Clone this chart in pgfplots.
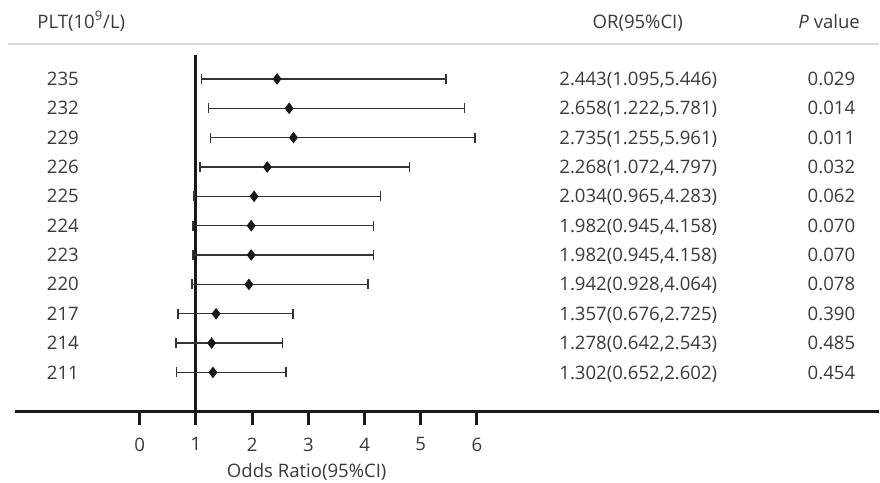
\documentclass[border=0pt]{standalone}
\usepackage{fontspec}
\setmainfont{Open Sans}
\usepackage{pgfplots}
\pgfplotsset{compat=1.18}
\usepackage{pgfplotstable}
\definecolor{txt}{HTML}{3A3A3A}
\definecolor{hline}{HTML}{D9D9D9}
\pgfplotstableread{
row plt or lo hi
11 235 2.443 1.095 5.446
10 232 2.658 1.222 5.781
9 229 2.735 1.255 5.961
8 226 2.268 1.072 4.797
7 225 2.034 0.965 4.283
6 224 1.982 0.945 4.158
5 223 1.982 0.945 4.158
4 220 1.942 0.928 4.064
3 217 1.357 0.676 2.725
2 214 1.278 0.642 2.543
1 211 1.302 0.652 2.602
}\datatable
\begin{document}
\begin{tikzpicture}[font=\fontsize{9.3}{11}\selectfont, rt/.style={anchor=base, yshift=-3.3pt, inner sep=0pt, text=txt}]
\begin{axis}[
  x=28.15pt, y=14.7pt,
  xmin=-2.22, xmax=13.144,
  ymin=-0.327, ymax=12.5,
  axis x line=bottom,
  axis y line=none,
  x axis line style={-, line width=1.5pt, black!90},
  xtick={0,1,2,3,4,5,6},
  tick align=outside,
  major tick length=7pt,
  x tick style={line width=1.5pt, black!90},
  /pgf/number format/assume math mode=true,
  xticklabel style={text=txt, inner sep=0pt, yshift=-6pt, font=\fontsize{9.3}{11}\selectfont},
  clip=false,
]
\path (axis cs:-2.487,-2.741) rectangle (axis cs:13.144,13.69);
% header
\draw[hline, line width=1.1pt] (axis cs:-2.34,12.19) -- (axis cs:13.144,12.19);
\node[anchor=base west, inner sep=0pt, text=txt] at (axis cs:-1.83,12.73) {PLT(10\textsuperscript{9}/L)};
\node[anchor=base, inner sep=0pt, text=txt] at (axis cs:8.86,12.73) {OR(95\%CI)};
\node[anchor=base east, inner sep=0pt, text=txt] at (axis cs:12.82,12.73) {\textit{P} value};
% reference line
\draw[line width=1.5pt, black!90] (axis cs:1,11.82) -- (axis cs:1,-0.327);
% data
\addplot[only marks, mark=diamond*, mark size=2.6pt, black!90,
  error bars/.cd, x dir=both, x explicit,
  error bar style={line width=0.75pt, black!80},
  error mark options={line width=0.75pt, black!80, mark size=2.5pt, rotate=90}]
  table[x=or, y=row, x error plus expr=\thisrow{hi}-\thisrow{or}, x error minus expr=\thisrow{or}-\thisrow{lo}] {\datatable};
% row labels
\node[rt] at (axis cs:-1.368,11) {235};
\node[rt] at (axis cs:-1.368,10) {232};
\node[rt] at (axis cs:-1.368,9) {229};
\node[rt] at (axis cs:-1.368,8) {226};
\node[rt] at (axis cs:-1.368,7) {225};
\node[rt] at (axis cs:-1.368,6) {224};
\node[rt] at (axis cs:-1.368,5) {223};
\node[rt] at (axis cs:-1.368,4) {220};
\node[rt] at (axis cs:-1.368,3) {217};
\node[rt] at (axis cs:-1.368,2) {214};
\node[rt] at (axis cs:-1.368,1) {211};
% OR text
\node[rt] at (axis cs:8.87,11) {2.443(1.095,5.446)};
\node[rt] at (axis cs:8.87,10) {2.658(1.222,5.781)};
\node[rt] at (axis cs:8.87,9) {2.735(1.255,5.961)};
\node[rt] at (axis cs:8.87,8) {2.268(1.072,4.797)};
\node[rt] at (axis cs:8.87,7) {2.034(0.965,4.283)};
\node[rt] at (axis cs:8.87,6) {1.982(0.945,4.158)};
\node[rt] at (axis cs:8.87,5) {1.982(0.945,4.158)};
\node[rt] at (axis cs:8.87,4) {1.942(0.928,4.064)};
\node[rt] at (axis cs:8.87,3) {1.357(0.676,2.725)};
\node[rt] at (axis cs:8.87,2) {1.278(0.642,2.543)};
\node[rt] at (axis cs:8.87,1) {1.302(0.652,2.602)};
% P values
\node[rt, anchor=base east] at (axis cs:12.735,11) {0.029};
\node[rt, anchor=base east] at (axis cs:12.735,10) {0.014};
\node[rt, anchor=base east] at (axis cs:12.735,9) {0.011};
\node[rt, anchor=base east] at (axis cs:12.735,8) {0.032};
\node[rt, anchor=base east] at (axis cs:12.735,7) {0.062};
\node[rt, anchor=base east] at (axis cs:12.735,6) {0.070};
\node[rt, anchor=base east] at (axis cs:12.735,5) {0.070};
\node[rt, anchor=base east] at (axis cs:12.735,4) {0.078};
\node[rt, anchor=base east] at (axis cs:12.735,3) {0.390};
\node[rt, anchor=base east] at (axis cs:12.735,2) {0.485};
\node[rt, anchor=base east] at (axis cs:12.735,1) {0.454};
% x label
\node[rt] at (axis cs:2.97,-2.37) {Odds Ratio(95\%CI)};
\end{axis}
\end{tikzpicture}
\end{document}
